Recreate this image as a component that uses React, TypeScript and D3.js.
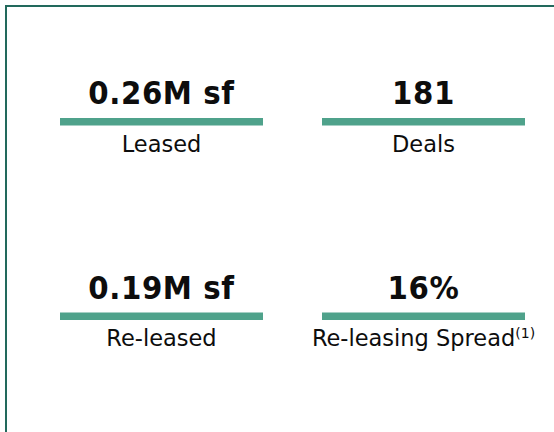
import React from "react";
import * as d3 from "d3";

const metricValues = ["0.26M sf", "181", "0.19M sf", "16%"];
const metricLabels = ["Leased", "Deals", "Re-leased", "Re-leasing Spread"];
const metricNotes = ["", "", "", "(1)"];
const columns = [0, 1];
const rows = [0, 1];

const W = 554;
const H = 432;

export default function App() {
  const x = d3.scalePoint<number>().domain(columns).range([161.5, 423.5]);
  const y = d3.scalePoint<number>().domain(rows).range([104, 298.5]);
  const barW = 203;
  const barH = 7.5;
  const teal = "#4fa28b";
  const border = "#22695c";

  return (
    <svg
      width={W}
      height={H}
      style={{ position: "absolute", left: 0, top: 0, background: "#fff" }}
    >
      <rect x={6} y={6} width={W + 20} height={H + 20} fill="none" stroke={border} strokeWidth={2} />
      {metricValues.map((v, i) => {
        const cx = x(columns[i % 2])!;
        const by = y(rows[Math.floor(i / 2)])!;
        return (
          <g key={i}>
            <text
              x={cx}
              y={by}
              textAnchor="middle"
              fontFamily="'DejaVu Sans Condensed', 'DejaVu Sans', sans-serif"
              fontWeight="bold"
              fontSize={32.5}
              letterSpacing={0.6}
              fill="#0d0d0d"
            >
              {v}
            </text>
            <rect x={cx - barW / 2} y={by + 14} width={barW} height={barH} fill={teal} />
            <text
              x={cx}
              y={by + 47.5}
              textAnchor="middle"
              fontFamily="'DejaVu Sans', sans-serif"
              fontSize={22.5}
              fill="#0d0d0d"
            >
              {metricLabels[i]}
              {metricNotes[i] ? (
                <tspan fontSize={14} dy={-8.5}>
                  {metricNotes[i]}
                </tspan>
              ) : null}
            </text>
          </g>
        );
      })}
    </svg>
  );
}
